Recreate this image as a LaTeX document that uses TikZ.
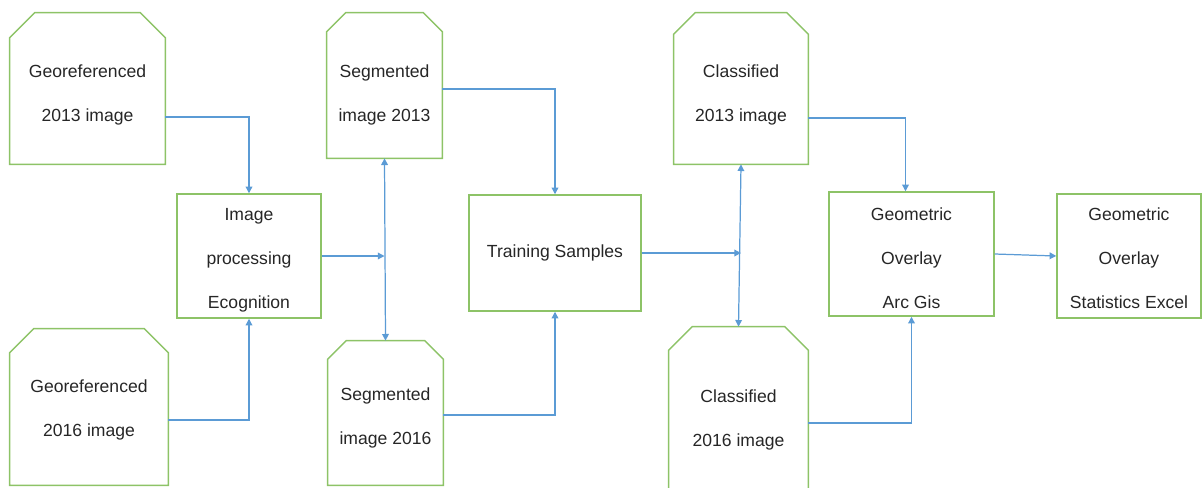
\documentclass[tikz,border=0pt]{standalone}
\usepackage{fontspec}
\setmainfont{Liberation Sans}
\usetikzlibrary{arrows.meta}
\definecolor{boxgreen}{RGB}{141,195,103}
\definecolor{linkblue}{RGB}{91,155,213}
% outline of a box with its two top corners cut off
\newcommand{\snipframe}[2]{%
    \draw[frame] (#1.south west) -- ([yshift=-#2]#1.north west) -- ([xshift=#2]#1.north west)
        -- ([xshift=-#2]#1.north east) -- ([yshift=-#2]#1.north east) -- (#1.south east) -- cycle;}
\begin{document}
\begin{tikzpicture}[x=0.02cm, y=-0.02cm,
    frame/.style={draw=boxgreen, line width=0.85pt},
    box/.style={align=center, inner sep=0pt, font=\fontsize{10}{25}\selectfont, text=black!85},
    lower/.style={execute at begin node={\rule{0pt}{#1}}},
    link/.style={draw=linkblue, line width=0.7pt, -{Triangle[length=3.8pt,width=3.8pt]}},
    both/.style={link, {Triangle[length=3.8pt,width=3.8pt]}-{Triangle[length=3.8pt,width=3.8pt]}}]
    \useasboundingbox (0,0) rectangle (1203,487);

    % Input images on the left
    \node[box, lower=39.1pt, minimum width=3.1cm, minimum height=3.02cm] (geo13) at (87.5, 88.5) {Georeferenced\\2013 image};
    \node[box, lower=35.1pt, minimum width=3.16cm, minimum height=3.12cm] (geo16) at (89, 407) {Georeferenced\\2016 image};
    \node[box, frame, lower=61.9pt, minimum width=2.88cm, minimum height=2.48cm] (improc) at (249, 256) {Image\\processing\\Ecognition};

    % Segmentation and training
    \node[box, lower=42.5pt, minimum width=2.3cm, minimum height=2.9cm] (seg13) at (384.5, 85.5) {Segmented\\image 2013};
    \node[box, lower=37.9pt, minimum width=2.3cm, minimum height=2.88cm] (seg16) at (385.5, 413) {Segmented\\image 2016};
    \node[box, frame, minimum width=3.44cm, minimum height=2.32cm] (train) at (555, 253) {Training Samples};

    % Classification and overlay
    \node[box, lower=39.1pt, minimum width=2.68cm, minimum height=3.02cm] (cls13) at (741, 88.5) {Classified\\2013 image};
    \node[box, lower=34.5pt, minimum width=2.78cm, minimum height=3.64cm] (cls16) at (738.5, 418) {Classified\\2016 image};
    \node[box, frame, lower=61.9pt, minimum width=3.3cm, minimum height=2.48cm] (ovl) at (911.5, 254) {Geometric\\Overlay\\Arc Gis};
    \node[box, frame, lower=59.5pt, minimum width=2.88cm, minimum height=2.48cm] (stat) at (1129, 256) {Geometric\\Overlay\\Statistics Excel};

    \snipframe{geo13}{0.5cm}
    \snipframe{geo16}{0.48cm}
    \snipframe{seg13}{0.38cm}
    \snipframe{seg16}{0.37cm}
    \snipframe{cls13}{0.43cm}
    \snipframe{cls16}{0.47cm}

    % Connectors
    \draw[link] (geo13.east |- 0,117) -| (improc.north);
    \draw[link] (geo16.east |- 0,420) -| (improc.south);
    \draw[both] (seg13.south) -- (seg16.north);
    \draw[link] (improc.east) -- (improc.east -| seg13.south);
    \draw[link] (seg13.east |- 0,89) -| (train.north);
    \draw[link] (seg16.east |- 0,415) -| (train.south);
    \draw[both] (cls13.south) -- (cls16.north);
    \draw[link] (train.east) -- (train.east -| cls13.south);
    \draw[link] (cls13.east |- 0,118) -| ([xshift=-0.12cm]ovl.north);
    \draw[link] (cls16.east |- 0,423) -| (ovl.south);
    \draw[link] (ovl.east) -- (stat.west);
\end{tikzpicture}
\end{document}
